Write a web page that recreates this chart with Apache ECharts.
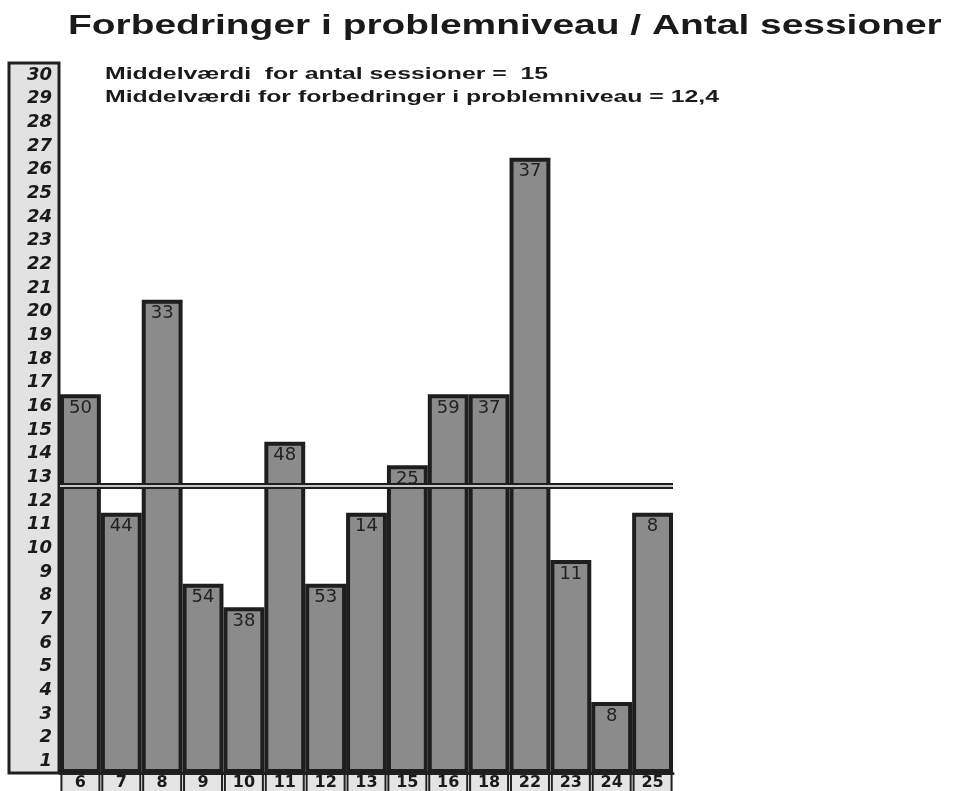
<!DOCTYPE html>
<html>
<head>
<meta charset="utf-8">
<script src="https://cdn.jsdelivr.net/npm/echarts@6/dist/echarts.min.js"></script>
<style>
  html, body { margin: 0; padding: 0; background: #ffffff; }
  #chart { width: 958px; height: 791px; }
</style>
</head>
<body>
<div id="chart"></div>
<script>
// ---- Data ----
var categories = ['6', '7', '8', '9', '10', '11', '12', '13', '15', '16', '18', '22', '23', '24', '25'];
var improvements = [16, 11, 20, 8, 7, 14, 8, 11, 13, 16, 16, 26, 9, 3, 11];
var barLabels = ['50', '44', '33', '54', '38', '48', '53', '14', '25', '59', '37', '37', '11', '8', '8'];
var yTickLabels = ['1','2','3','4','5','6','7','8','9','10','11','12','13','14','15','16','17','18','19','20','21','22','23','24','25','26','27','28','29','30'];
var meanLine = 12.15;
var titleText = 'Forbedringer i problemniveau / Antal sessioner';
var note1 = 'Middelværdi  for antal sessioner =  15';
var note2 = 'Middelværdi for forbedringer i problemniveau = 12,4';

var chart = echarts.init(document.getElementById('chart'), null, { renderer: 'canvas' });

var option = {
  animation: false,
  backgroundColor: '#ffffff',
  graphic: [
    {
      type: 'text', x: 68, y: 12, scaleX: 1.39, scaleY: 1,
      style: { text: titleText, fill: '#1a1a1a', font: 'bold 28px "Liberation Sans", Arial, sans-serif', textAlign: 'left', textVerticalAlign: 'top' }
    },
    {
      type: 'text', x: 105, y: 67, scaleX: 1.55, scaleY: 1,
      style: { text: note1, fill: '#1a1a1a', font: 'bold 16px "Liberation Sans", Arial, sans-serif', textAlign: 'left', textVerticalAlign: 'top' }
    },
    {
      type: 'text', x: 105, y: 90, scaleX: 1.55, scaleY: 1,
      style: { text: note2, fill: '#1a1a1a', font: 'bold 16px "Liberation Sans", Arial, sans-serif', textAlign: 'left', textVerticalAlign: 'top' }
    }
  ],
  grid: [
    { left: 60, width: 613, top: 63, bottom: 18, containLabel: false, outerBoundsMode: 'none' },
    { left: 9, width: 50, top: 63, bottom: 18, show: true, backgroundColor: '#e2e2e2', borderColor: '#202020', borderWidth: 3, outerBoundsMode: 'none' }
  ],
  xAxis: [
    {
      type: 'category', gridIndex: 0, data: categories,
      axisLine: { show: true, lineStyle: { color: '#202020', width: 3 } },
      axisTick: { show: false },
      axisLabel: {
        margin: 2, interval: 0,
        color: '#1a1a1a', fontFamily: '"DejaVu Sans", sans-serif', fontWeight: 'bold', fontSize: 16,
        backgroundColor: '#e4e4e4', borderColor: '#202020', borderWidth: 2,
        width: 36, height: 18, align: 'center', verticalAlign: 'top', lineHeight: 16, padding: [0, 0, 0, 0]
      },
      splitLine: { show: false }
    },
    { type: 'value', gridIndex: 1, show: false }
  ],
  yAxis: [
    { type: 'value', gridIndex: 0, min: 0, max: 30, interval: 1, show: false, splitLine: { show: false } },
    {
      type: 'category', gridIndex: 1, data: yTickLabels, position: 'right',
      axisLine: { show: false }, axisTick: { show: false }, splitLine: { show: false },
      axisLabel: {
        inside: true, margin: 7, interval: 0,
        color: '#1a1a1a', fontFamily: '"DejaVu Sans", sans-serif', fontWeight: 'bold', fontStyle: 'italic', fontSize: 18
      }
    }
  ],
  series: [
    {
      type: 'bar', xAxisIndex: 0, yAxisIndex: 0,
      data: improvements,
      barCategoryGap: '0%',
      itemStyle: { color: '#8b8b8b', borderColor: '#1e1e1e', borderWidth: 4 },
      label: {
        show: true, position: 'insideTop', distance: 5,
        formatter: function (p) { return barLabels[p.dataIndex]; },
        color: '#222222', fontFamily: '"DejaVu Sans", sans-serif', fontSize: 18
      },
      markLine: {
        silent: true, symbol: ['none', 'none'], label: { show: false },
        data: [
          { yAxis: meanLine, lineStyle: { color: '#1e1e1e', width: 6, type: 'solid' } },
          { yAxis: meanLine, lineStyle: { color: '#ffffff', width: 1.5, type: 'solid' } }
        ]
      }
    }
  ]
};

chart.setOption(option);
</script>
</body>
</html>
